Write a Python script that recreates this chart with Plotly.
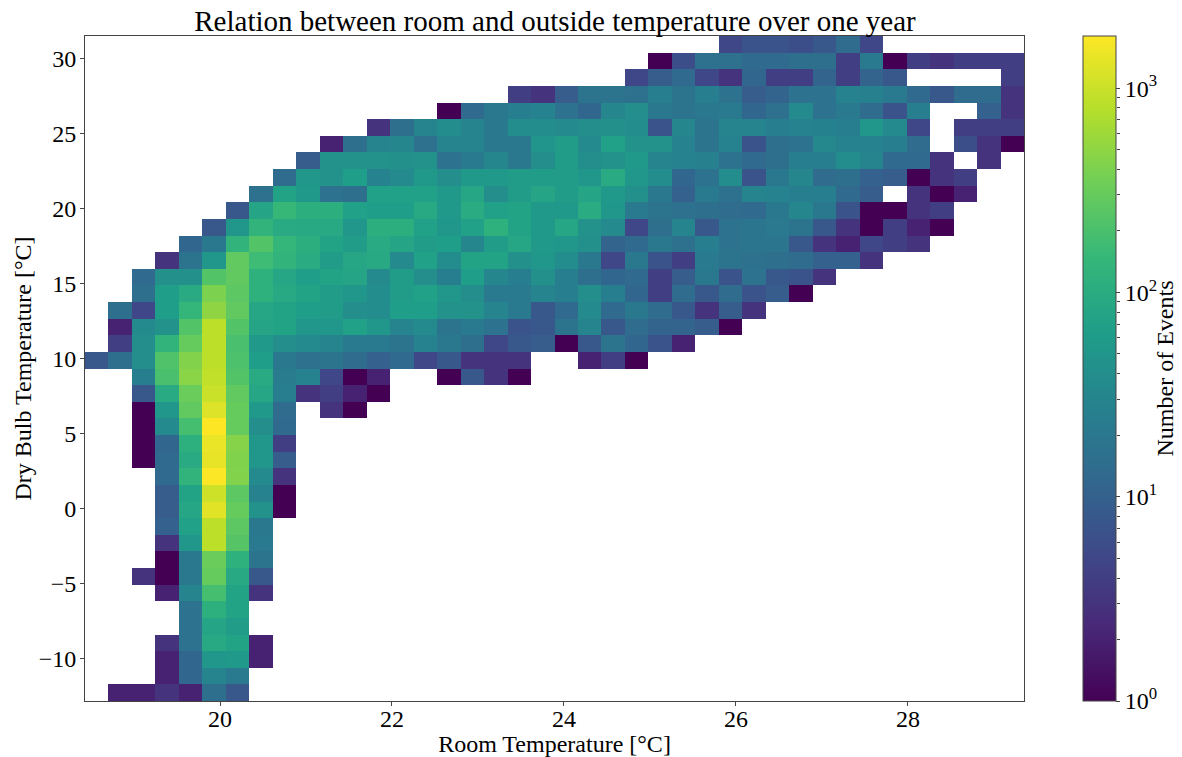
import numpy as np
import plotly.graph_objects as go

# Bin edges of the 2D histogram
room_min, room_max = 18.43, 29.35
dry_min, dry_max = -12.8, 31.5
n_bins = 40

# First populated room-temperature bin in each dry-bulb row (bottom row first)
row_start = [1,3,3,3,4,4,3,2,3,3,3,3,3,3,2,2,2,2,2,2,0,1,1,1,2,2,3,4,5,6,7,8,9,10,12,15,18,23,24,27]

# Event counts per row; 0 means an empty bin
row_counts = [
 [2,2,3,2,15,8],
 [2,12,30,22],
 [2,12,50,55,2],
 [3,17,90,75,2],
 [17,80,60],
 [17,115,75],
 [2,30,190,75,3],
 [3,1,20,300,90,8],
 [1,20,320,120,18],
 [3,50,850,240,22],
 [10,70,850,260,20],
 [9,85,1300,300,45,1],
 [9,75,1050,260,28,1],
 [13,130,1750,430,35,3],
 [1,13,95,1400,420,50,9],
 [1,12,115,1450,450,50,4],
 [1,35,190,1800,300,40,13],
 [1,50,280,1250,300,55,14,0,3,1],
 [8,95,320,1000,280,85,24,3,4,2,1],
 [25,200,470,900,230,95,23,28,5,1,2,0,0,1,8,3,1],
 [8,15,40,220,430,850,210,65,20,16,18,14,10,13,5,8,3,3,3,0,0,2,4,1],
 [4,40,130,300,850,200,55,40,35,30,22,22,18,28,20,15,5,8,9,1,8,18,12,7,2],
 [2,35,45,230,850,230,80,75,50,50,70,50,30,35,18,22,17,7,8,18,30,8,14,11,11,9,1],
 [15,5,65,140,500,280,85,75,65,60,40,38,65,65,45,45,30,22,8,13,35,13,20,14,8,3,9,3],
 [15,65,95,400,260,120,90,75,60,50,38,60,70,50,40,22,22,30,25,40,25,12,4,14,8,14,7,9,1],
 [13,42,42,230,280,120,85,65,75,80,35,60,40,25,65,32,25,42,25,15,12,13,4,9,20,7,17,8,7,3],
 [3,18,50,280,170,130,100,60,85,90,35,70,38,75,75,42,50,38,20,5,20,7,4,22,18,16,15,14,10,10,3],
 [12,20,130,230,140,110,75,60,95,80,60,65,32,60,85,55,50,42,11,13,20,16,25,17,19,19,8,3,2,5,4,3],
 [8,50,130,95,90,90,50,110,110,70,50,70,120,75,55,85,45,35,5,15,30,8,17,19,21,18,8,3,1,4,2,1],
 [8,80,150,110,110,70,65,65,90,55,100,70,75,55,55,100,50,22,18,16,15,14,13,20,32,20,7,1,1,3,4],
 [16,75,55,17,15,70,70,70,55,85,40,60,80,60,80,55,42,20,10,22,16,30,28,25,25,13,9,0,3,1,2],
 [14,50,45,65,28,35,55,40,55,55,60,60,60,50,95,50,38,12,17,38,7,20,32,14,15,10,9,1,3,4],
 [9,45,45,45,42,45,17,22,32,20,40,60,40,45,55,30,28,26,17,13,15,25,25,38,30,13,13,3,0,3],
 [2,15,30,32,16,30,30,20,20,48,60,35,70,45,45,28,18,28,7,15,17,33,28,28,25,14,0,6,3,1],
 [3,15,30,38,30,20,38,38,35,40,42,38,7,32,18,30,30,25,28,27,25,50,35,5,0,4,4,4],
 [1,13,20,25,28,17,12,32,40,20,18,20,22,12,16,35,17,22,14,7,25,0,0,10,3],
 [4,3,9,18,18,16,25,18,25,17,9,11,17,17,28,26,22,13,8,14,14,3],
 [5,9,13,5,3,12,4,4,11,4,11,8,0,0,0,0,4],
 [1,6,16,16,13,13,15,15,4,22,1,4,3,4,4,4],
 [5,7,7,6,8,14,5],
]

cbar_major = [1, 10, 100, 1000]
cbar_labels = ["10<sup>0</sup>", "10<sup>1</sup>", "10<sup>2</sup>", "10<sup>3</sup>"]
cbar_max = 1800
cbar_minor = [2,3,4,5,6,7,8,9,20,30,40,50,60,70,80,90,200,300,400,500,600,700,800,900]

x_ticks = [20, 22, 24, 26, 28]
y_ticks = [-10, -5, 0, 5, 10, 15, 20, 25, 30]

grid = np.full((n_bins, n_bins), np.nan)
for r, (s, vals) in enumerate(zip(row_start, row_counts)):
    for k, v in enumerate(vals):
        if v > 0:
            grid[r, s + k] = v

x_edges = np.linspace(room_min, room_max, n_bins + 1)
y_edges = np.linspace(dry_min, dry_max, n_bins + 1)

FONT = "Liberation Serif"
AX = "#444444"
FIG_W, FIG_H = 1174, 749   # page body adds an 8 px offset
L, R, T, B = 77, 7, 28, 56
W = FIG_W - L - R
fig = go.Figure()
fig.add_trace(go.Heatmap(
    x=x_edges, y=y_edges, z=np.log10(grid), customdata=grid,
    colorscale="Viridis", zmin=0, zmax=np.log10(cbar_max),
    hoverongaps=False, xgap=0, ygap=0,
    hovertemplate="Room %{x:.1f} °C<br>Dry bulb %{y:.1f} °C<br>%{customdata} events<extra></extra>",
    colorbar=dict(
        x=998 / W, xanchor="left", xpad=0, ypad=0, y=0.5, yanchor="middle",
        len=1, lenmode="fraction", thickness=33, thicknessmode="pixels",
        outlinecolor=AX, outlinewidth=1,
        tickmode="array", tickvals=np.log10(cbar_major).tolist(), ticktext=cbar_labels,
        ticks="outside", ticklen=4, tickwidth=1, tickcolor=AX,
        tickfont=dict(family=FONT, size=24, color="black"),
    ),
))
# Invisible trace on a log axis that supplies the colour bar's minor ticks and title
fig.add_trace(go.Scatter(x=[0], y=[1], xaxis="x2", yaxis="y2", mode="markers",
                         marker=dict(opacity=0), showlegend=False, hoverinfo="skip"))

fig.update_layout(
    width=FIG_W, height=FIG_H,
    margin=dict(l=L, r=R, t=T, b=B, autoexpand=False),
    paper_bgcolor="white", plot_bgcolor="white",
    font=dict(family=FONT, color="black"),
    title=dict(text="Relation between room and outside temperature over one year",
               font=dict(family=FONT, size=29, color="black"),
               x=547/FIG_W, xanchor="center", y=1-13/FIG_H, yanchor="middle"),
    xaxis=dict(domain=[0, 939 / W], range=[room_min, room_max], tickvals=x_ticks, ticks="outside", ticklen=4,
               tickcolor=AX, showgrid=False, zeroline=False, showline=True, linecolor=AX,
               linewidth=1, mirror=True, tickfont=dict(family=FONT, size=24), ticklabelstandoff=-8,
               title=dict(text="Room Temperature [°C]", font=dict(family=FONT, size=24), standoff=0)),
    yaxis=dict(range=[dry_min, dry_max], tickvals=y_ticks, ticks="outside", ticklen=4,
               tickcolor=AX, showgrid=False, zeroline=False, showline=True, linecolor=AX,
               linewidth=1, mirror=True, tickfont=dict(family=FONT, size=24), ticklabelstandoff=-1,
               title=dict(text="Dry Bulb Temperature [°C]", font=dict(family=FONT, size=24), standoff=0)),
    xaxis2=dict(domain=[998 / W, 1031 / W], range=[-1, 1], visible=False),
    yaxis2=dict(type="log", anchor="x2", side="right", domain=[0, 1],
                range=[0, float(np.log10(cbar_max))],
                tickvals=[], showgrid=False, zeroline=False, showline=False,
                title=dict(text="Number of Events", standoff=40,
                           font=dict(family=FONT, size=24, color="black")),
                minor=dict(ticks="outside", ticklen=2.5, tickwidth=1, tickcolor=AX,
                           tickvals=cbar_minor, showgrid=False)),
)
fig.write_html("out.html")
